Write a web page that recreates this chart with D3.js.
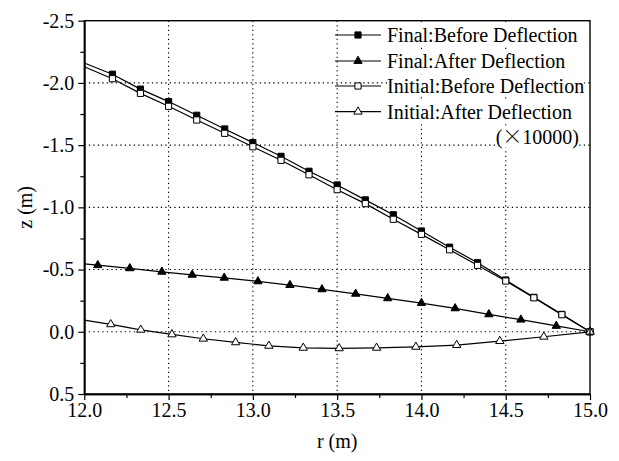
<!DOCTYPE html>
<html><head><meta charset="utf-8">
<script src="https://cdn.jsdelivr.net/npm/d3@7"></script>
<style>
html,body{margin:0;padding:0;background:#fff;}
svg{display:block;}
text{font-family:"Liberation Serif","Times New Roman",serif;fill:#000;}
</style></head>
<body>
<svg id="chart" width="619" height="461"></svg>
<script>
// ---- data ----
const finalBeforeR = [12.0, 12.167, 12.333, 12.5, 12.667, 12.833, 13.0, 13.167, 13.333, 13.5, 13.667, 13.833, 14.0, 14.167, 14.333, 14.5, 14.667, 14.833, 15.0];
const finalBeforeZ = [-2.16, -2.07, -1.95, -1.85, -1.74, -1.63, -1.52, -1.41, -1.29, -1.18, -1.06, -0.94, -0.81, -0.68, -0.555, -0.416, -0.277, -0.14, 0.0];
const initialBeforeR = finalBeforeR;
const initialBeforeZ = [-2.13, -2.034, -1.916, -1.812, -1.702, -1.595, -1.487, -1.378, -1.262, -1.142, -1.03, -0.904, -0.783, -0.659, -0.534, -0.408, -0.273, -0.137, 0.0];
const finalAfterR = [12.0, 12.08, 12.27, 12.46, 12.64, 12.83, 13.03, 13.22, 13.41, 13.61, 13.80, 14.00, 14.20, 14.40, 14.59, 14.80, 15.0];
const finalAfterZ = [-0.545, -0.535, -0.51, -0.482, -0.458, -0.434, -0.405, -0.375, -0.341, -0.305, -0.269, -0.231, -0.188, -0.140, -0.097, -0.047, 0.0];
const initialAfterR = [12.0, 12.157, 12.335, 12.52, 12.706, 12.898, 13.095, 13.299, 13.512, 13.734, 13.967, 14.209, 14.465, 14.726, 15.0];
const initialAfterZ = [-0.094, -0.06, -0.016, 0.021, 0.056, 0.085, 0.113, 0.129, 0.133, 0.129, 0.121, 0.107, 0.075, 0.04, 0.0];

const xTicks = [12.0, 12.5, 13.0, 13.5, 14.0, 14.5, 15.0];
const yTicks = [-2.5, -2.0, -1.5, -1.0, -0.5, 0.0, 0.5];
const xMinor = [12.25, 12.75, 13.25, 13.75, 14.25, 14.75];
const yMinor = [-2.25, -1.75, -1.25, -0.75, -0.25, 0.25];
const seriesNames = ["Final:Before Deflection", "Final:After Deflection", "Initial:Before Deflection", "Initial:After Deflection"];
const xTitle = "r (m)";
const yTitle = "z (m)";

// ---- layout ----
const L = 84.3, R = 590, T = 20.7, B = 394;
const svg = d3.select("#chart");
const x = d3.scaleLinear().domain([12, 15]).range([L, R]);
const y = d3.scaleLinear().domain([-2.5, 0.5]).range([T, B]);
const fmt = d => d.toFixed(1);

// grid
const grid = svg.append("g").attr("stroke", "#000").attr("stroke-width", 1.1).attr("stroke-dasharray", "1.3 3.2");
grid.selectAll("line.v").data(xTicks.slice(1, -1)).join("line")
  .attr("x1", d => x(d)).attr("x2", d => x(d)).attr("y1", T).attr("y2", B);
grid.selectAll("line.h").data(yTicks.slice(1, -1)).join("line")
  .attr("x1", L).attr("x2", R).attr("y1", d => y(d)).attr("y2", d => y(d));

// series
const series = [
  {r: finalBeforeR, z: finalBeforeZ, sym: d3.symbolSquare, fill: "#000", size: 38},
  {r: finalAfterR, z: finalAfterZ, sym: d3.symbolTriangle, fill: "#000", size: 30},
  {r: initialBeforeR, z: initialBeforeZ, sym: d3.symbolSquare, fill: "#fff", size: 38},
  {r: initialAfterR, z: initialAfterZ, sym: d3.symbolTriangle, fill: "#fff", size: 30}
];
const line = d3.line().x(d => x(d[0])).y(d => y(d[1]));
series.forEach(s => {
  const pts = s.r.map((r, i) => [r, s.z[i]]);
  svg.append("path").datum(pts).attr("d", line)
    .attr("fill", "none").attr("stroke", "#000").attr("stroke-width", 1.2);
  svg.append("g").selectAll("path").data(pts.filter(p => p[0] > 12.01)).join("path")
    .attr("d", d3.symbol().type(s.sym).size(s.size))
    .attr("transform", d => `translate(${x(d[0])},${y(d[1])})`)
    .attr("fill", s.fill).attr("stroke", "#000").attr("stroke-width", 1);
});

// frame
svg.append("rect").attr("x", L).attr("y", T).attr("width", R - L).attr("height", B - T)
  .attr("fill", "none").attr("stroke", "#000").attr("stroke-width", 1.4);

// axes
const ax = svg.append("g").attr("transform", `translate(0,${B})`)
  .call(d3.axisBottom(x).tickValues(xTicks).tickFormat(fmt).tickSize(6).tickSizeOuter(0).tickPadding(3));
const axm = svg.append("g").attr("transform", `translate(0,${B})`)
  .call(d3.axisBottom(x).tickValues(xMinor).tickFormat("").tickSize(4).tickSizeOuter(0));
const ay = svg.append("g").attr("transform", `translate(${L},0)`)
  .call(d3.axisLeft(y).tickValues(yTicks).tickFormat(fmt).tickSize(6).tickSizeOuter(0).tickPadding(4));
const aym = svg.append("g").attr("transform", `translate(${L},0)`)
  .call(d3.axisLeft(y).tickValues(yMinor).tickFormat("").tickSize(4).tickSizeOuter(0));
[ax, axm, ay, aym].forEach(g => {
  g.select(".domain").attr("stroke", "#000").attr("stroke-width", 1.4);
  g.selectAll(".tick line").attr("stroke", "#000").attr("stroke-width", 1.2);
  g.selectAll("text").attr("font-family", "Liberation Serif").attr("font-size", 20).attr("fill", "#000");
});

// titles
svg.append("text").attr("x", (L + R) / 2).attr("y", 448).attr("text-anchor", "middle")
  .attr("font-size", 20).text(xTitle);
svg.append("text").attr("transform", `translate(32,${(T + B) / 2}) rotate(-90)`).attr("text-anchor", "middle")
  .attr("font-size", 20).text(yTitle);

// legend
const lg = svg.append("g");
const rowY = [35, 61, 86, 111.7];
series.forEach((s, i) => {
  const cy = rowY[i];
  lg.append("line").attr("x1", 335).attr("x2", 381).attr("y1", cy).attr("y2", cy)
    .attr("stroke", "#000").attr("stroke-width", 1.2);
  lg.append("path").attr("d", d3.symbol().type(s.sym).size(s.size))
    .attr("transform", `translate(358,${cy})`)
    .attr("fill", s.fill).attr("stroke", "#000").attr("stroke-width", 1);
  const t = lg.append("text").attr("x", 387).attr("y", cy + 7).attr("font-size", 20).text(seriesNames[i]);
  const bb = t.node().getBBox();
  lg.insert("rect", "text").attr("x", bb.x).attr("y", cy - 11).attr("width", bb.width).attr("height", 22).attr("fill", "#fff");
});
const note = lg.append("text").attr("x", 579).attr("y", 136.7 + 7).attr("text-anchor", "end").attr("font-size", 20);
note.append("tspan").text("(");
note.append("tspan").attr("font-family", "Noto Sans CJK SC").attr("font-weight", 300).text("\u00D7");
note.append("tspan").text("10000)");
const nb = note.node().getBBox();
lg.insert("rect", "text").attr("x", nb.x).attr("y", 136.7 - 11).attr("width", nb.width).attr("height", 22).attr("fill", "#fff");
</script>
</body></html>
